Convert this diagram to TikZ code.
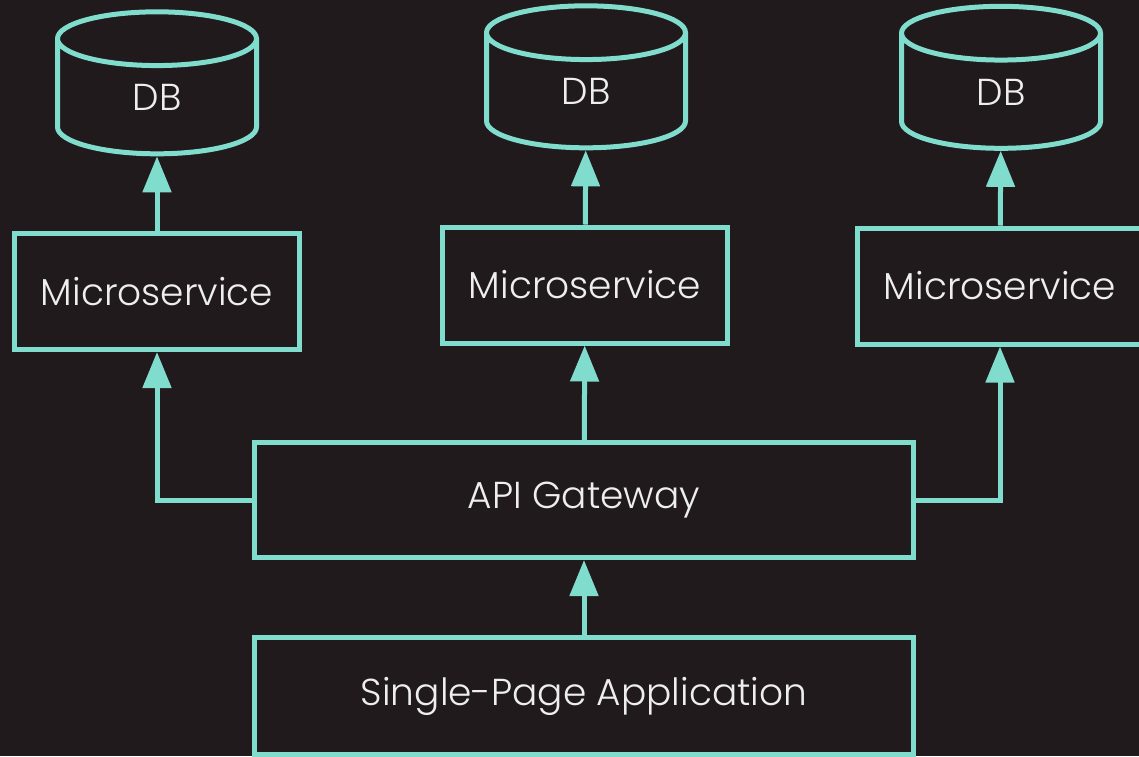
\documentclass[tikz,border=0pt]{standalone}
\usepackage{fontspec}
\setmainfont{Poppins}[UprightFont=* Light]
\usetikzlibrary{arrows.meta,shapes.geometric,positioning}
\definecolor{bgdark}{HTML}{211A1D}
\definecolor{tealline}{HTML}{80DCCC}
\definecolor{lighttext}{HTML}{EEEEEE}

\begin{document}
\begin{tikzpicture}[
				x=1pt, y=-1pt,
				% Define the looks of boxes, databases and arrows
				box/.style={draw=tealline, line width=5pt, text=lighttext, font=\fontsize{37.5}{44}\selectfont, minimum width=285pt, minimum height=116pt, inner sep=0pt},
				database/.style={box, cylinder, shape border rotate=90, aspect=1.1, minimum width=199pt, minimum height=142pt},
				flow/.style={draw=tealline, line width=5pt, -{Triangle[width=28pt,length=36pt]}}
				]
				\fill[bgdark] (0,0) rectangle (1139,756);
				\useasboundingbox (0,0) rectangle (1139,756);
				\node[box] (LeftService) at (157,291.5) {Microservice};
				\node[box] (MiddleService) at (585,285) {Microservice};
				\node[box] (RightService) at (1000,286) {Microservice};
				\node[database] (LeftDB) at (157,97.5) {DB};
				\node[database] (MiddleDB) at (586,91.5) {DB};
				\node[database] (RightDB) at (1001,92) {DB};
				\node[box, minimum width=659pt, minimum height=115pt] (Gateway) at (584,500) {API Gateway};
				\node[box, minimum width=659pt, minimum height=117pt] (SPA) at (584,696) {Single-Page Application};
				\draw[flow] (SPA) -- (Gateway);
				\draw[flow] (Gateway.west) -| (LeftService);
				\draw[flow] (Gateway) -- (MiddleService);
				\draw[flow] (Gateway.east) -| (RightService);
				\draw[flow] (LeftService) -- (LeftDB);
				\draw[flow] (MiddleService) -- (MiddleDB);
				\draw[flow] (RightService) -- (RightDB);
			\end{tikzpicture}
\end{document}
